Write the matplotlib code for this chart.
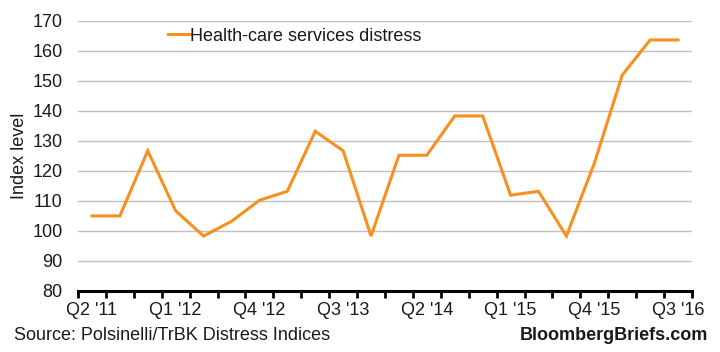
import numpy as np
import matplotlib
matplotlib.use("Agg")
from matplotlib import pyplot as plt

plt.rcParams['font.family'] = ['Liberation Sans', 'DejaVu Sans']

# quarterly index, Q2 '11 .. Q3 '16
quarters = ["Q2 '11", "Q3 '11", "Q4 '11", "Q1 '12", "Q2 '12", "Q3 '12", "Q4 '12",
            "Q1 '13", "Q2 '13", "Q3 '13", "Q4 '13", "Q1 '14", "Q2 '14", "Q3 '14",
            "Q4 '14", "Q1 '15", "Q2 '15", "Q3 '15", "Q4 '15", "Q1 '16", "Q2 '16",
            "Q3 '16"]
distress = [105, 105, 126.7, 106.7, 98.3, 103.2, 110.2, 113.2, 133.2, 126.7, 98.3,
            125.2, 125.2, 138.3, 138.3, 111.9, 113.2, 98.3, 122.5, 151.9, 163.6, 163.6]

fig = plt.figure(figsize=(7.2, 3.52), dpi=100)
ax = fig.add_axes([0.1083, 0.1733, 0.8528, 0.7678])

x = np.arange(len(quarters))
ax.plot(x, distress, color='#F7901E', lw=2.2, label='Health-care services distress',
        solid_joinstyle='miter', zorder=3)

ax.set_xlim(-0.5, len(quarters) - 0.5)
ax.set_ylim(80, 170)
ax.set_yticks(np.arange(80, 171, 10))
ax.grid(axis='y', color='#c0c0c0', lw=1)
ax.set_axisbelow(True)

# category boundaries get the tick marks, labels sit at every third quarter
ax.set_xticks(x[::3])
ax.set_xticklabels(quarters[::3])
ax.set_xticks(np.arange(-0.5, len(quarters)), minor=True)
ax.tick_params(axis='x', which='major', length=0, pad=8, labelsize=13, labelcolor='#1a1a1a')
ax.tick_params(axis='x', which='minor', length=5, width=2, color='black', direction='out')
ax.tick_params(axis='y', length=0, labelsize=13, pad=11, labelcolor='#1a1a1a')

for s in ['left', 'right', 'top']:
    ax.spines[s].set_visible(False)
ax.spines['bottom'].set_linewidth(2.2)
ax.spines['bottom'].set_zorder(4)

ax.set_ylabel('Index level', fontsize=13, labelpad=3, color='#1a1a1a')

leg = ax.legend(loc='upper left', bbox_to_anchor=(0.12, 1.035), frameon=False, fontsize=13,
                handlelength=1.2, handletextpad=0.05)
for t in leg.get_texts():
    t.set_color('#1a1a1a')

fig.text(0.019, 0.035, 'Source: Polsinelli/TrBK Distress Indices', fontsize=13, color='#1a1a1a')
fig.text(0.983, 0.035, 'BloombergBriefs.com', fontsize=13, fontweight='bold', ha='right',
         color='#1a1a1a')

fig.savefig('out.png', dpi=100)
